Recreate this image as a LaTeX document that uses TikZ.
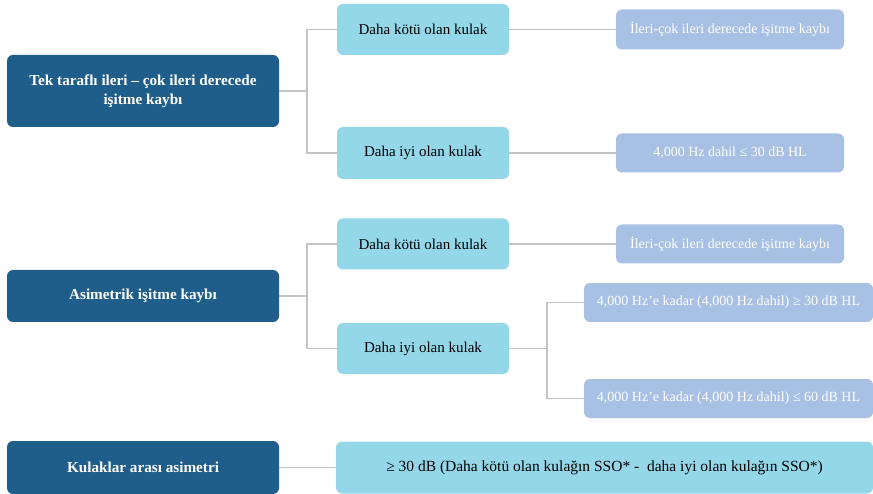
\documentclass[tikz,border=0pt]{standalone}
\usepackage{fontspec}
\setmainfont{Liberation Serif}
\definecolor{darkb}{RGB}{31,93,139}
\definecolor{cyanb}{RGB}{148,215,233}
\definecolor{lavb}{RGB}{167,192,227}
\definecolor{conn}{RGB}{196,196,196}
\begin{document}
\begin{tikzpicture}[x=1pt,y=-1pt,
  box/.style={rounded corners=6pt, inner sep=0pt, align=center},
  mainbox/.style={box, fill=darkb, text=white, font=\fontsize{15.2}{19}\selectfont\bfseries},
  subbox/.style={box, fill=cyanb, text=black, font=\fontsize{15}{18}\selectfont},
  leafbox/.style={box, fill=lavb, text=white, font=\fontsize{14}{16}\selectfont},
  link/.style={draw=conn, line width=1.8pt}]
\useasboundingbox (0,0) rectangle (873,494);
% group 1
\node[mainbox, minimum width=272pt, minimum height=72pt] (m1) at (143,91) {Tek taraflı ileri – çok ileri derecede\\işitme kaybı};
\node[subbox, minimum width=172pt, minimum height=51pt] (k1) at (423,29.5) {Daha kötü olan kulak};
\node[subbox, minimum width=172pt, minimum height=52pt] (i1) at (423,153) {Daha iyi olan kulak};
\node[leafbox, minimum width=228pt, minimum height=40pt] (l1) at (730,29.5) {İleri-çok ileri derecede işitme kaybı};
\node[leafbox, minimum width=228pt, minimum height=39pt] (l2) at (730,153) {4,000 Hz dahil ≤ 30 dB HL};
% group 2
\node[mainbox, minimum width=272pt, minimum height=52pt] (m2) at (143,296) {Asimetrik işitme kaybı};
\node[subbox, minimum width=172pt, minimum height=51pt] (k2) at (423,244) {Daha kötü olan kulak};
\node[subbox, minimum width=172pt, minimum height=51pt] (i2) at (423,348.5) {Daha iyi olan kulak};
\node[leafbox, minimum width=228pt, minimum height=39pt] (l3) at (730,244) {İleri-çok ileri derecede işitme kaybı};
\node[leafbox, minimum width=289pt, minimum height=39pt] (l4) at (728.5,302.5) {4,000 Hz’e kadar (4,000 Hz dahil) ≥ 30 dB HL};
\node[leafbox, minimum width=289pt, minimum height=39pt] (l5) at (728.5,398.5) {4,000 Hz’e kadar (4,000 Hz dahil) ≤ 60 dB HL};
% group 3
\node[mainbox, minimum width=272pt, minimum height=53pt] (m3) at (143,467.5) {Kulaklar arası asimetri};
\node[subbox, minimum width=537pt, minimum height=52pt, font=\fontsize{15.5}{18}\selectfont] (b3) at (604.5,467.5) {≥ 30 dB (Daha kötü olan kulağın SSO* -\ \ daha iyi olan kulağın SSO*)};
% connectors
\coordinate (j1) at (307,91);
\coordinate (j2) at (307,296);
\coordinate (j3) at (547,348.5);
\draw[link] (m1.east) -- (j1);
\draw[link] (k1.west) -| (j1) |- (i1.west);
\draw[link] (k1.east) -- (l1.west);
\draw[link] (i1.east) -- (l2.west);
\draw[link] (m2.east) -- (j2);
\draw[link] (k2.west) -| (j2) |- (i2.west);
\draw[link] (k2.east) -- (l3.west);
\draw[link] (i2.east) -- (j3);
\draw[link] (l4.west) -| (j3) |- (l5.west);
\draw[link] (m3.east) -- (b3.west);
\end{tikzpicture}
\end{document}
